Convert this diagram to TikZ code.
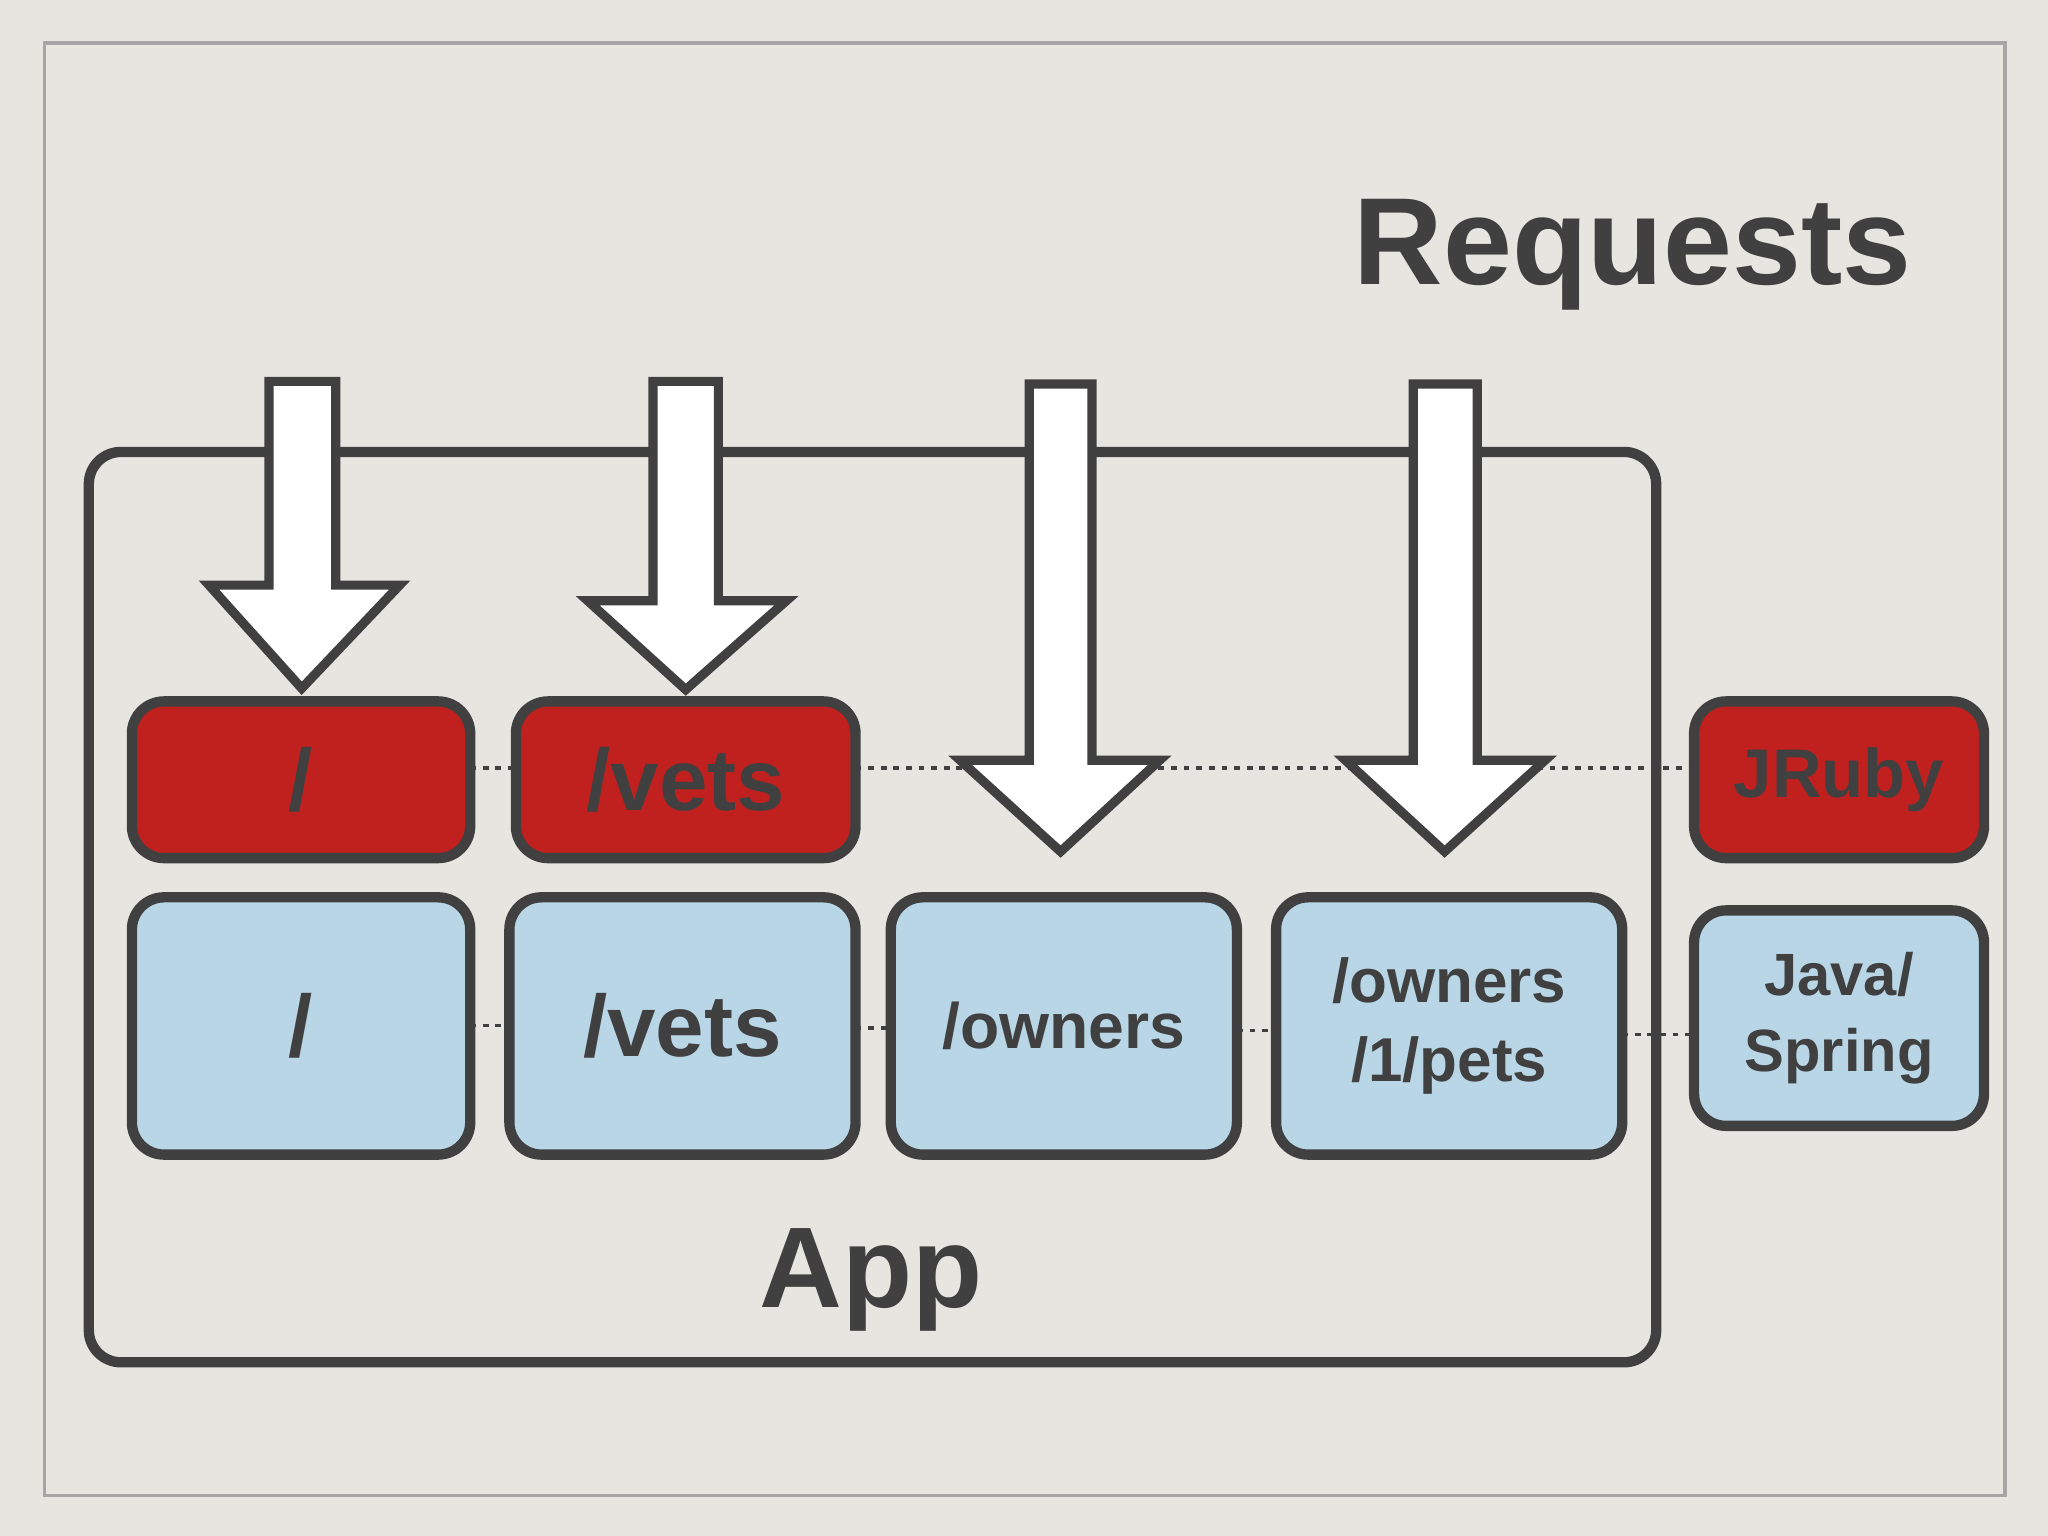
\documentclass[tikz,border=0pt]{standalone}
\usepackage{fontspec}
\setmainfont{Liberation Sans}
\definecolor{bg}{HTML}{E6E5E0}
\definecolor{dk}{HTML}{404040}
\definecolor{rd}{HTML}{C0211F}
\definecolor{bl}{HTML}{B9D6E7}
\begin{document}
\begin{tikzpicture}[x=0.02cm,y=-0.02cm,
 box/.style={draw=dk,line width=4.5pt,rounded corners=14pt,inner sep=0pt,text=dk,font=\bfseries,align=center},
 red/.style={box,fill=rd},
 blue/.style={box,fill=bl},
 dots/.style={dk,line width=1.5pt,dash pattern=on 2.5pt off 3pt},
 arr/.style={draw=dk,fill=white,line width=4pt,line join=miter}]
\fill[bg] (0,0) rectangle (1568,1176);
\useasboundingbox (0,0) rectangle (1568,1176);
\draw[gray!70,line width=1.5pt] (34,33) rectangle (1535,1145);
\node[draw=dk,line width=4.5pt,rounded corners=14pt,minimum width=1200*0.02cm,minimum height=697*0.02cm] (app) at (668,694.5) {};
\node[text=dk,font=\bfseries\fontsize{50}{60}\selectfont] (apptxt) at (667,980) {App};
\node[text=dk,font=\bfseries\fontsize{54}{64}\selectfont] (req) at (1250,195) {Requests};
% dotted lines
\coordinate (d1) at (360,588); \coordinate (d2) at (395,588);
\coordinate (d3) at (655,588); \coordinate (d4) at (1297,588);
\draw[dots] (d1)--(d2); \draw[dots] (d3)--(d4);
\draw[dots] (360,785)--(390,785); \draw[dots] (655,787)--(682,787);
\draw[dots] (947,789)--(977,789); \draw[dots] (1242,792)--(1297,792);
% red
\node[red,minimum width=259*0.02cm,minimum height=120*0.02cm,font=\bfseries\fontsize{38}{44}\selectfont] (r1) at (230.5,597) {/};
\node[red,minimum width=260*0.02cm,minimum height=120*0.02cm,font=\bfseries\fontsize{38}{44}\selectfont] (r2) at (525,597) {/vets};
\node[red,minimum width=222*0.02cm,minimum height=120*0.02cm,font=\bfseries\fontsize{30}{36}\selectfont] (r3) at (1408,597) {JRuby};
% blue
\node[blue,minimum width=259*0.02cm,minimum height=197*0.02cm,font=\bfseries\fontsize{38}{44}\selectfont] (b1) at (230.5,785.5) {/};
\node[blue,minimum width=265*0.02cm,minimum height=197*0.02cm,font=\bfseries\fontsize{38}{44}\selectfont] (b2) at (522.5,785.5) {/vets};
\node[blue,minimum width=265*0.02cm,minimum height=197*0.02cm,font=\bfseries\fontsize{28}{34}\selectfont] (b3) at (814.5,785.5) {/owners};
\node[blue,minimum width=265*0.02cm,minimum height=197*0.02cm,font=\bfseries\fontsize{27}{34}\selectfont] (b4) at (1109.5,785.5) {/owners\\/1/pets};
\node[blue,minimum width=222*0.02cm,minimum height=165*0.02cm,font=\bfseries\fontsize{26}{33}\selectfont] (b5) at (1408,779.5) {Java/\\Spring};
% arrows
\draw[arr] (206,292)--(257,292)--(257,448)--(306,448)--(231,527)--(160,448)--(206,448)--cycle;
\draw[arr] (500,292)--(550,292)--(550,460)--(602,460)--(525,528)--(450,460)--(500,460)--cycle;
\draw[arr] (788,294)--(836,294)--(836,582)--(888,582)--(812,652)--(735,582)--(788,582)--cycle;
\draw[arr] (1082,294)--(1131,294)--(1131,582)--(1183,582)--(1106,652)--(1030,582)--(1082,582)--cycle;
\end{tikzpicture}
\end{document}
